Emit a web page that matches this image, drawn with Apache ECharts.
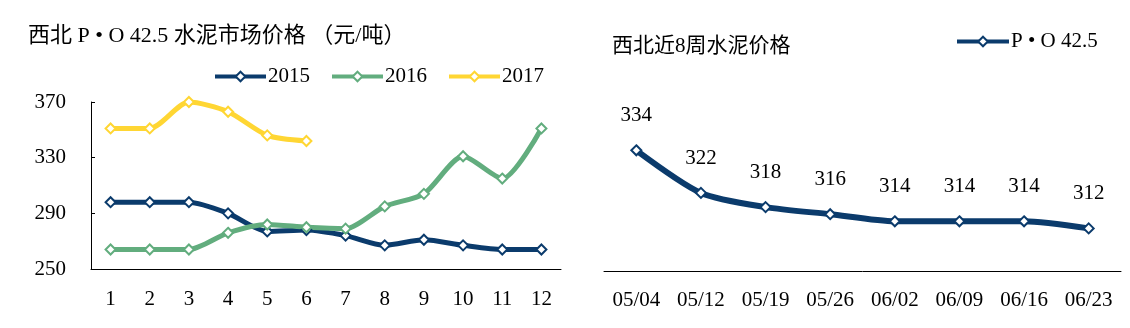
<!DOCTYPE html>
<html>
<head>
<meta charset="utf-8">
<script src="https://cdn.jsdelivr.net/npm/echarts@6/dist/echarts.min.js"></script>
<style>
  html, body { margin: 0; padding: 0; background: #fff; }
  #chart { width: 1130px; height: 328px; }
</style>
</head>
<body>
<div id="chart"></div>
<script>
// Monthly Northwest P·O 42.5 cement prices (yuan/ton)
const months = ['1', '2', '3', '4', '5', '6', '7', '8', '9', '10', '11', '12'];
const price2015 = [298, 298, 298, 290, 277, 278, 274, 267, 271, 267, 264, 264];
const price2016 = [264, 264, 264, 276, 282, 280, 279, 295, 304, 331, 315, 351];
const price2017 = [351, 351, 370, 363, 346, 342];

// Last 8 weeks
const weeks = ['05/04', '05/12', '05/19', '05/26', '06/02', '06/09', '06/16', '06/23'];
const weeklyPrice = [334, 322, 318, 316, 314, 314, 314, 312];

const NAVY = '#0B3B6C';
const GREEN = '#62AD7E';
const YELLOW = '#FFD633';
const FONT = '"Liberation Serif", "Noto Sans CJK SC", serif';

function lineSeries(name, data, color, xi, yi) {
  return {
    name: name,
    type: 'line',
    xAxisIndex: xi,
    yAxisIndex: yi,
    data: data,
    smooth: 0.25,
    symbol: 'diamond',
    symbolSize: 10,
    showAllSymbol: true,
    lineStyle: { color: color, width: 5 },
    itemStyle: { color: '#fff', borderColor: color, borderWidth: 2 },
    emphasis: { disabled: true }
  };
}

const chart = echarts.init(document.getElementById('chart'));
chart.setOption({
  animation: false,
  backgroundColor: '#fff',
  textStyle: { fontFamily: FONT, color: '#000' },
  title: [
    {
      text: '西北 P • O 42.5 水泥市场价格 （元/吨）',
      left: 23, top: 20,
      textStyle: { fontFamily: FONT, fontSize: 22, fontWeight: 'normal', color: '#000' }
    },
    {
      text: '西北近8周水泥价格',
      left: 607, top: 31,
      textStyle: { fontFamily: FONT, fontSize: 21, fontWeight: 'normal', color: '#000' }
    }
  ],
  legend: [
    {
      data: ['2015', '2016', '2017'],
      left: 208, top: 61,
      itemWidth: 51, itemHeight: 12, itemGap: 20,
      lineStyle: { width: 4 },
      textStyle: { fontFamily: FONT, fontSize: 21, color: '#000', padding: [0, 0, 0, -3] }
    },
    {
      data: ['P • O 42.5'],
      left: 950, top: 26,
      itemWidth: 52, itemHeight: 12,
      lineStyle: { width: 4 },
      textStyle: { fontFamily: FONT, fontSize: 21, color: '#000', padding: [0, 0, 0, -3] }
    }
  ],
  grid: [
    { left: 91, right: 569, top: 102, bottom: 59 },
    { left: 604, right: 9, top: 129, bottom: 57 }
  ],
  xAxis: [
    {
      gridIndex: 0, type: 'category', data: months, boundaryGap: true,
      axisLine: { lineStyle: { color: '#000', width: 1 } },
      axisTick: { inside: true, length: 4, lineStyle: { color: '#000' } },
      axisLabel: { fontFamily: FONT, fontSize: 21, color: '#000', margin: 20 }
    },
    {
      gridIndex: 1, type: 'category', data: weeks, boundaryGap: true,
      axisLine: { lineStyle: { color: '#000', width: 1 } },
      axisTick: { inside: true, length: 5, lineStyle: { color: '#000' } },
      axisLabel: { fontFamily: FONT, fontSize: 21, color: '#000', margin: 19 }
    }
  ],
  yAxis: [
    {
      gridIndex: 0, type: 'value', min: 250, max: 370, interval: 40,
      axisLine: { show: true, lineStyle: { color: '#000', width: 1 } },
      axisTick: { show: true, inside: true, length: 4, lineStyle: { color: '#000' } },
      splitLine: { show: false },
      axisLabel: { fontFamily: FONT, fontSize: 21, color: '#000', margin: 25 }
    },
    {
      gridIndex: 1, type: 'value', min: 300, max: 340,
      show: false,
      splitLine: { show: false }
    }
  ],
  series: [
    lineSeries('2015', price2015, NAVY, 0, 0),
    lineSeries('2016', price2016, GREEN, 0, 0),
    lineSeries('2017', price2017, YELLOW, 0, 0),
    Object.assign(lineSeries('P • O 42.5', weeklyPrice, NAVY, 1, 1), {
      lineStyle: { color: NAVY, width: 6 },
      label: {
        show: true, position: 'top', distance: 18,
        fontFamily: FONT, fontSize: 21, color: '#000'
      }
    })
  ]
});
</script>
</body>
</html>
